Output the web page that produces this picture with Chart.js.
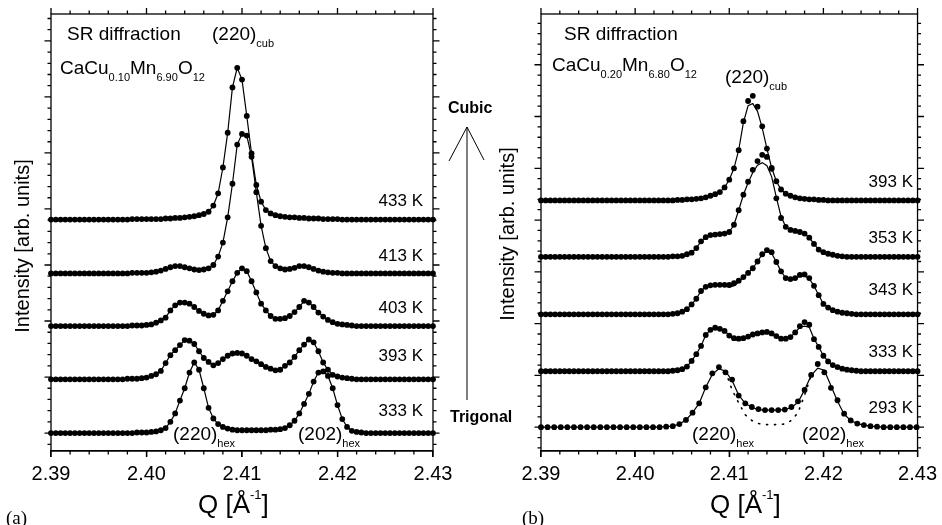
<!DOCTYPE html>
<html>
<head>
<meta charset="utf-8">
<script src="https://cdn.jsdelivr.net/npm/chart.js@4.4.0/dist/chart.umd.min.js"></script>
<style>
  body { margin: 0; background: #fff; }
  #wrap { position: relative; width: 942px; height: 525px; overflow: hidden;
          font-family: "Liberation Sans", Arial, sans-serif; color: #000; }
  canvas { position: absolute; left: 0; top: 0; }
  .t { position: absolute; white-space: nowrap; line-height: 1; }
  .t sub { font-size: 0.58em; vertical-align: -0.6em; line-height: 0; }
  .t sup { font-size: 0.5em; vertical-align: 1.1em; line-height: 0; }
  .tmp { font-size: 17px; text-align: right; }
  .b { font-weight: bold; font-size: 16px; }
  .lbl { font-family: "Liberation Serif", "Times New Roman", serif; font-size: 19px; }
  .ytitle { font-size: 20px; transform: translate(-50%, -50%) rotate(-90deg); }
</style>
</head>
<body>
<div id="wrap">
  <canvas id="chartA" width="942" height="525"></canvas>
  <canvas id="chartB" width="942" height="525"></canvas>

  <svg style="position:absolute;left:0;top:0" width="942" height="525">
    <g stroke="#000" stroke-width="1" fill="none">
      <line x1="467" y1="127" x2="467" y2="400"/>
      <polyline points="449,161 467,127 484,160"/>
    </g>
  </svg>

  <!-- panel (a) -->
  <div class="t" style="left:67px;top:24px;font-size:19px">SR diffraction</div>
  <div class="t" style="left:212px;top:24px;font-size:19px">(220)<sub>cub</sub></div>
  <div class="t" style="left:60px;top:58px;font-size:19px">CaCu<sub>0.10</sub>Mn<sub>6.90</sub>O<sub>12</sub></div>
  <div class="t tmp" style="right:519px;top:192px">433 K</div>
  <div class="t tmp" style="right:519px;top:247px">413 K</div>
  <div class="t tmp" style="right:519px;top:299px">403 K</div>
  <div class="t tmp" style="right:519px;top:347px">393 K</div>
  <div class="t tmp" style="right:519px;top:402px">333 K</div>
  <div class="t" style="left:173px;top:424px;font-size:19px">(220)<sub>hex</sub></div>
  <div class="t" style="left:298px;top:424px;font-size:19px">(202)<sub>hex</sub></div>
  <div class="t" style="left:198px;top:491px;font-size:26px">Q [Å<sup>-1</sup>]</div>
  <div class="t ytitle" style="left:22px;top:246px">Intensity [arb. units]</div>
  <div class="t lbl" style="left:6px;top:508px">(a)</div>

  <div class="t b" style="left:448px;top:100px">Cubic</div>
  <div class="t b" style="left:450px;top:409px">Trigonal</div>

  <!-- panel (b) -->
  <div class="t" style="left:564px;top:24px;font-size:19px">SR diffraction</div>
  <div class="t" style="left:552px;top:55px;font-size:19px">CaCu<sub>0.20</sub>Mn<sub>6.80</sub>O<sub>12</sub></div>
  <div class="t" style="left:725px;top:67px;font-size:19px">(220)<sub>cub</sub></div>
  <div class="t tmp" style="right:29px;top:173px">393 K</div>
  <div class="t tmp" style="right:29px;top:229px">353 K</div>
  <div class="t tmp" style="right:29px;top:281px">343 K</div>
  <div class="t tmp" style="right:29px;top:343px">333 K</div>
  <div class="t tmp" style="right:29px;top:399px">293 K</div>
  <div class="t" style="left:692px;top:424px;font-size:19px">(220)<sub>hex</sub></div>
  <div class="t" style="left:802px;top:424px;font-size:19px">(202)<sub>hex</sub></div>
  <div class="t" style="left:710px;top:491px;font-size:26px">Q [Å<sup>-1</sup>]</div>
  <div class="t ytitle" style="left:507px;top:234px">Intensity [arb. units]</div>
  <div class="t lbl" style="left:522px;top:508px">(b)</div>
</div>

<script>
// Q grid of the scans [1/Å]
const qFine = [
  2.3900, 2.3905, 2.3910, 2.3915, 2.3920, 2.3925, 2.3930, 2.3935, 2.3940, 2.3945,
  2.3950, 2.3955, 2.3960, 2.3965, 2.3970, 2.3975, 2.3980, 2.3985, 2.3990, 2.3995,
  2.4000, 2.4005, 2.4010, 2.4015, 2.4020, 2.4025, 2.4030, 2.4035, 2.4040, 2.4045,
  2.4050, 2.4055, 2.4060, 2.4065, 2.4070, 2.4075, 2.4080, 2.4085, 2.4090, 2.4095,
  2.4100, 2.4105, 2.4110, 2.4115, 2.4120, 2.4125, 2.4130, 2.4135, 2.4140, 2.4145,
  2.4150, 2.4155, 2.4160, 2.4165, 2.4170, 2.4175, 2.4180, 2.4185, 2.4190, 2.4195,
  2.4200, 2.4205, 2.4210, 2.4215, 2.4220, 2.4225, 2.4230, 2.4235, 2.4240, 2.4245,
  2.4250, 2.4255, 2.4260, 2.4265, 2.4270, 2.4275, 2.4280, 2.4285, 2.4290, 2.4295,
  2.4300
];
// coarser scan used for 293 K in panel (b)
const qCoarse = [
  2.3900, 2.3907, 2.3914, 2.3921, 2.3928, 2.3935, 2.3942, 2.3949, 2.3956, 2.3963,
  2.3970, 2.3977, 2.3984, 2.3991, 2.3998, 2.4005, 2.4012, 2.4019, 2.4026, 2.4033,
  2.4040, 2.4047, 2.4054, 2.4061, 2.4068, 2.4075, 2.4082, 2.4089, 2.4096, 2.4103,
  2.4110, 2.4117, 2.4124, 2.4131, 2.4138, 2.4145, 2.4152, 2.4159, 2.4166, 2.4173,
  2.4180, 2.4187, 2.4194, 2.4201, 2.4208, 2.4215, 2.4222, 2.4229, 2.4236, 2.4243,
  2.4250, 2.4257, 2.4264, 2.4271, 2.4278, 2.4285, 2.4292, 2.4299
];

// panel (a): CaCu0.10Mn6.90O12, intensity above each curve's baseline
const tempsA = ['333 K', '393 K', '403 K', '413 K', '433 K'];
const offsetsA = [0, 96, 191, 285, 381];
const a333 = [
  0,0,0,0,0,0,0,0,0,0, 0,0,0,0,0,0,0,0,1,1,
  1,2,3,5,9,20,35,58,80,108, 126,113,80,45,26,16,11,8,6,5,
  5,5,5,5,5,5,6,6,7,9, 14,22,35,52,70,92,108,110,102,80,
  50,25,11,4,2,1,0,0,0,0, 0,0,0,0,0,0,0,0,0,0, 0
];
const a393 = [
  0,0,0,0,0,0,0,0,0,0, 0,0,0,0,0,0,1,1,1,2,
  3,6,9,15,29,43,52,61,70,69, 63,50,38,31,25,29,36,42,46,47,
  46,42,36,32,27,22,19,16,17,24, 30,40,52,62,71,66,50,30,17,8,
  5,3,2,1,0,0,0,0,0,0, 0,0,0,0,0,0,0,0,0,0, 0
];
const a403 = [
  0,0,0,0,0,0,0,0,0,0, 0,0,0,0,0,0,0,1,1,1,
  2,3,6,10,15,28,37,42,42,40, 34,27,22,19,20,28,45,62,80,95,
  103,98,80,60,40,28,18,13,13,14, 18,25,34,45,42,34,24,17,11,7,
  4,3,2,1,0,0,0,0,0,0, 0,0,0,0,0,0,0,0,0,0, 0
];
const a413 = [
  0,0,0,0,0,0,0,0,0,0, 0,0,0,0,0,0,0,1,1,1,
  1,2,3,5,8,11,13,13,11,9, 7,6,7,9,15,30,55,100,160,230,
  249,246,208,145,85,45,22,13,9,7, 8,10,13,13,11,8,5,3,2,1,
  1,0,0,0,0,0,0,0,0,0, 0,0,0,0,0,0,0,0,0,0, 0
];
const a433 = [
  0,0,0,0,0,0,0,0,0,0, 0,0,0,0,0,0,0,1,1,1,
  1,1,1,1,2,2,3,3,4,5, 6,8,10,14,25,47,93,155,236,271,
  250,185,118,62,32,17,11,8,6,5, 4,4,3,3,2,2,2,1,1,1,
  1,0,0,0,0,0,0,0,0,0, 0,0,0,0,0,0,0,0,0,0, 0
];

// panel (b): CaCu0.20Mn6.80O12, measured points and fitted curves
const tempsB = ['293 K', '333 K', '343 K', '353 K', '393 K'];
const offsetsB = [0, 108, 218, 329, 438];
const b293 = [
  0,0,0,0,0,0,0,0,0,0, 0,0,0,0,0,0,0,0,0,1,
  2,6,14,28,46,77,104,116,106,92, 61,46,39,35,33,33,33,34,39,50,
  72,101,122,106,76,52,26,13,7,4, 2,1,0,0,0,0,0,0
];
const b293Fit = [
  0,0,0,0,0,0,0,0,0,0, 0,0,0,0,0,0,0,0,0,1,
  2,6,14,28,46,77,102,113,108,90, 62,46,38,34,33,33,33,34,38,48,
  72,100,114,110,80,50,25,13,7,4, 2,1,0,0,0,0,0,0
];
// sum of the two hexagonal peaks alone (dotted)
const qSplit = [2.4096, 2.4103, 2.4110, 2.4117, 2.4124, 2.4131, 2.4138,
                2.4145, 2.4152, 2.4159, 2.4166, 2.4173, 2.4180, 2.4187];
const b293Split = [108, 72, 47, 24, 13, 7, 5, 5, 5, 6, 13, 28, 62, 100];

const b333 = [
  0,0,0,0,0,0,0,0,0,0, 0,0,0,0,0,0,0,0,0,0,
  0,0,0,0,0,0,0,0,1,2, 4,9,20,33,49,70,80,84,82,78,
  69,64,63,64,67,71,73,75,76,73, 68,63,63,66,75,87,95,90,62,47,
  30,19,12,8,5,3,2,1,0,0, 0,0,0,0,0,0,0,0,0,0, 0
];
const b333Fit = [
  0,0,0,0,0,0,0,0,0,0, 0,0,0,0,0,0,0,0,0,0,
  0,0,0,0,0,0,0,0,1,2, 4,9,20,33,49,70,80,84,82,78,
  69,61,60,62,66,71,73,75,76,73, 68,63,63,66,75,85,87,85,63,47,
  30,19,12,8,5,3,2,1,0,0, 0,0,0,0,0,0,0,0,0,0, 0
];
const b343 = [
  0,0,0,0,0,0,0,0,0,0, 0,0,0,0,0,0,0,0,0,0,
  0,0,0,0,0,0,0,0,1,2, 5,10,19,30,45,53,56,57,57,57,
  57,60,65,72,80,89,102,116,124,120, 101,83,70,68,70,76,77,70,55,37,
  20,13,8,5,3,2,1,0,0,0, 0,0,0,0,0,0,0,0,0,0, 0
];
const b343Fit = [
  0,0,0,0,0,0,0,0,0,0, 0,0,0,0,0,0,0,0,0,0,
  0,0,0,0,0,0,0,0,1,2, 5,10,19,30,45,53,56,57,57,55,
  52,55,62,72,80,89,102,116,121,118, 101,83,70,68,70,74,74,69,55,37,
  20,13,8,5,3,2,1,0,0,0, 0,0,0,0,0,0,0,0,0,0, 0
];
const b353 = [
  0,0,0,0,0,0,0,0,0,0, 0,0,0,0,0,0,0,0,0,0,
  0,0,0,0,0,0,0,0,1,1, 2,5,8,17,30,38,42,43,44,45,
  48,62,90,120,145,168,185,197,193,170, 113,75,58,52,50,48,45,37,25,14,
  9,6,4,2,1,0,0,0,0,0, 0,0,0,0,0,0,0,0,0,0, 0
];
const b353Fit = [
  0,0,0,0,0,0,0,0,0,0, 0,0,0,0,0,0,0,0,0,0,
  0,0,0,0,0,0,0,0,1,1, 2,5,8,17,30,38,42,43,44,45,
  48,62,90,120,143,163,177,182,176,155, 115,78,58,52,50,48,45,37,25,14,
  9,6,4,2,1,0,0,0,0,0, 0,0,0,0,0,0,0,0,0,0, 0
];
const b393 = [
  0,0,0,0,0,0,0,0,0,0, 0,0,0,0,0,0,0,0,0,0,
  0,0,0,0,0,0,0,0,0,1, 1,2,2,3,4,6,9,12,16,25,
  40,62,97,153,192,202,181,143,100,63, 37,21,13,9,6,4,3,2,2,1,
  1,0,0,0,0,0,0,0,0,0, 0,0,0,0,0,0,0,0,0,0, 0
];
const b393Fit = [
  0,0,0,0,0,0,0,0,0,0, 0,0,0,0,0,0,0,0,0,0,
  0,0,0,0,0,0,0,0,0,1, 1,2,2,3,4,6,9,12,16,25,
  40,62,97,150,183,187,172,140,100,63, 37,21,13,9,6,4,3,2,2,1,
  1,0,0,0,0,0,0,0,0,0, 0,0,0,0,0,0,0,0,0,0, 0
];

const FONT = '"Liberation Sans", Arial, sans-serif';
Chart.defaults.font.family = FONT;
Chart.defaults.color = '#000';

function pts(q, vals, off) {
  return q.map((x, i) => ({ x: x, y: vals[i] + off }));
}
function fitSet(data, dash) {
  return {
    data: data, showLine: true, pointRadius: 0, borderColor: '#000',
    borderWidth: dash ? 1.6 : 1.2, borderDash: dash || [], borderCapStyle: 'round', tension: 0
  };
}
function dotSet(data) {
  return {
    data: data, showLine: false, pointRadius: 2.9, pointBackgroundColor: '#000',
    pointBorderWidth: 0, clip: false
  };
}

// frame with minor ticks on all four sides
const frame = {
  id: 'frame',
  afterDraw(chart) {
    const { ctx, chartArea: a, scales: { x, y } } = chart;
    ctx.save();
    ctx.strokeStyle = '#000';
    ctx.lineWidth = 1.3;
    ctx.strokeRect(a.left, a.top, a.right - a.left, a.bottom - a.top);
    ctx.beginPath();
    for (let k = 0; k <= 20; k++) {
      const px = x.getPixelForValue(2.39 + k * 0.002);
      const len = k % 5 === 0 ? 6 : 3.5;
      ctx.moveTo(px, a.bottom); ctx.lineTo(px, a.bottom + len);
      ctx.moveTo(px, a.top); ctx.lineTo(px, a.top - len);
    }
    for (let v = Math.ceil(y.min / 20) * 20; v <= y.max; v += 20) {
      const py = y.getPixelForValue(v);
      const len = v % 100 === 0 ? 6.5 : 3.5;
      ctx.moveTo(a.left, py); ctx.lineTo(a.left - len, py);
      ctx.moveTo(a.right, py); ctx.lineTo(a.right + len, py);
    }
    ctx.stroke();
    ctx.restore();
  }
};

function panel(id, padL, padR, yMin, yMax, datasets) {
  return new Chart(document.getElementById(id), {
    type: 'scatter',
    data: { datasets: datasets },
    options: {
      responsive: false,
      animation: false,
      events: [],
      layout: { padding: { left: padL, right: padR, top: 14, bottom: 0 } },
      plugins: { legend: { display: false }, tooltip: { enabled: false } },
      scales: {
        x: {
          type: 'linear', min: 2.39, max: 2.43,
          afterFit(s) { s.height = 74; },
          border: { display: true, color: '#000', width: 1.3 },
          grid: { display: true, drawOnChartArea: false, drawTicks: true, tickLength: 6, color: '#000', lineWidth: 1.3 },
          ticks: {
            stepSize: 0.01, padding: 5, color: '#000', maxRotation: 0, autoSkip: false,
            font: { family: FONT, size: 20 },
            callback: v => v.toFixed(2)
          }
        },
        y: { display: false, min: yMin, max: yMax }
      }
    },
    plugins: [frame]
  });
}

const curvesA = [a333, a393, a403, a413, a433];
const setsA = [];
curvesA.forEach((c, k) => setsA.push(fitSet(pts(qFine, c, offsetsA[k]))));
curvesA.forEach((c, k) => setsA.push(dotSet(pts(qFine, c, offsetsA[k]))));
panel('chartA', 51, 509, -32, 748, setsA);

const dataB = [b333, b343, b353, b393];
const fitB = [b333Fit, b343Fit, b353Fit, b393Fit];
const setsB = [];
setsB.push(fitSet(pts(qCoarse, b293Fit, offsetsB[0])));
setsB.push(fitSet(pts(qSplit, b293Split, offsetsB[0]), [1.2, 6.8]));
fitB.forEach((c, k) => setsB.push(fitSet(pts(qFine, c, offsetsB[k + 1]))));
setsB.push(dotSet(pts(qCoarse, b293, offsetsB[0])));
dataB.forEach((c, k) => setsB.push(dotSet(pts(qFine, c, offsetsB[k + 1]))));
panel('chartB', 541, 19, -46, 798, setsB);
</script>
</body>
</html>
